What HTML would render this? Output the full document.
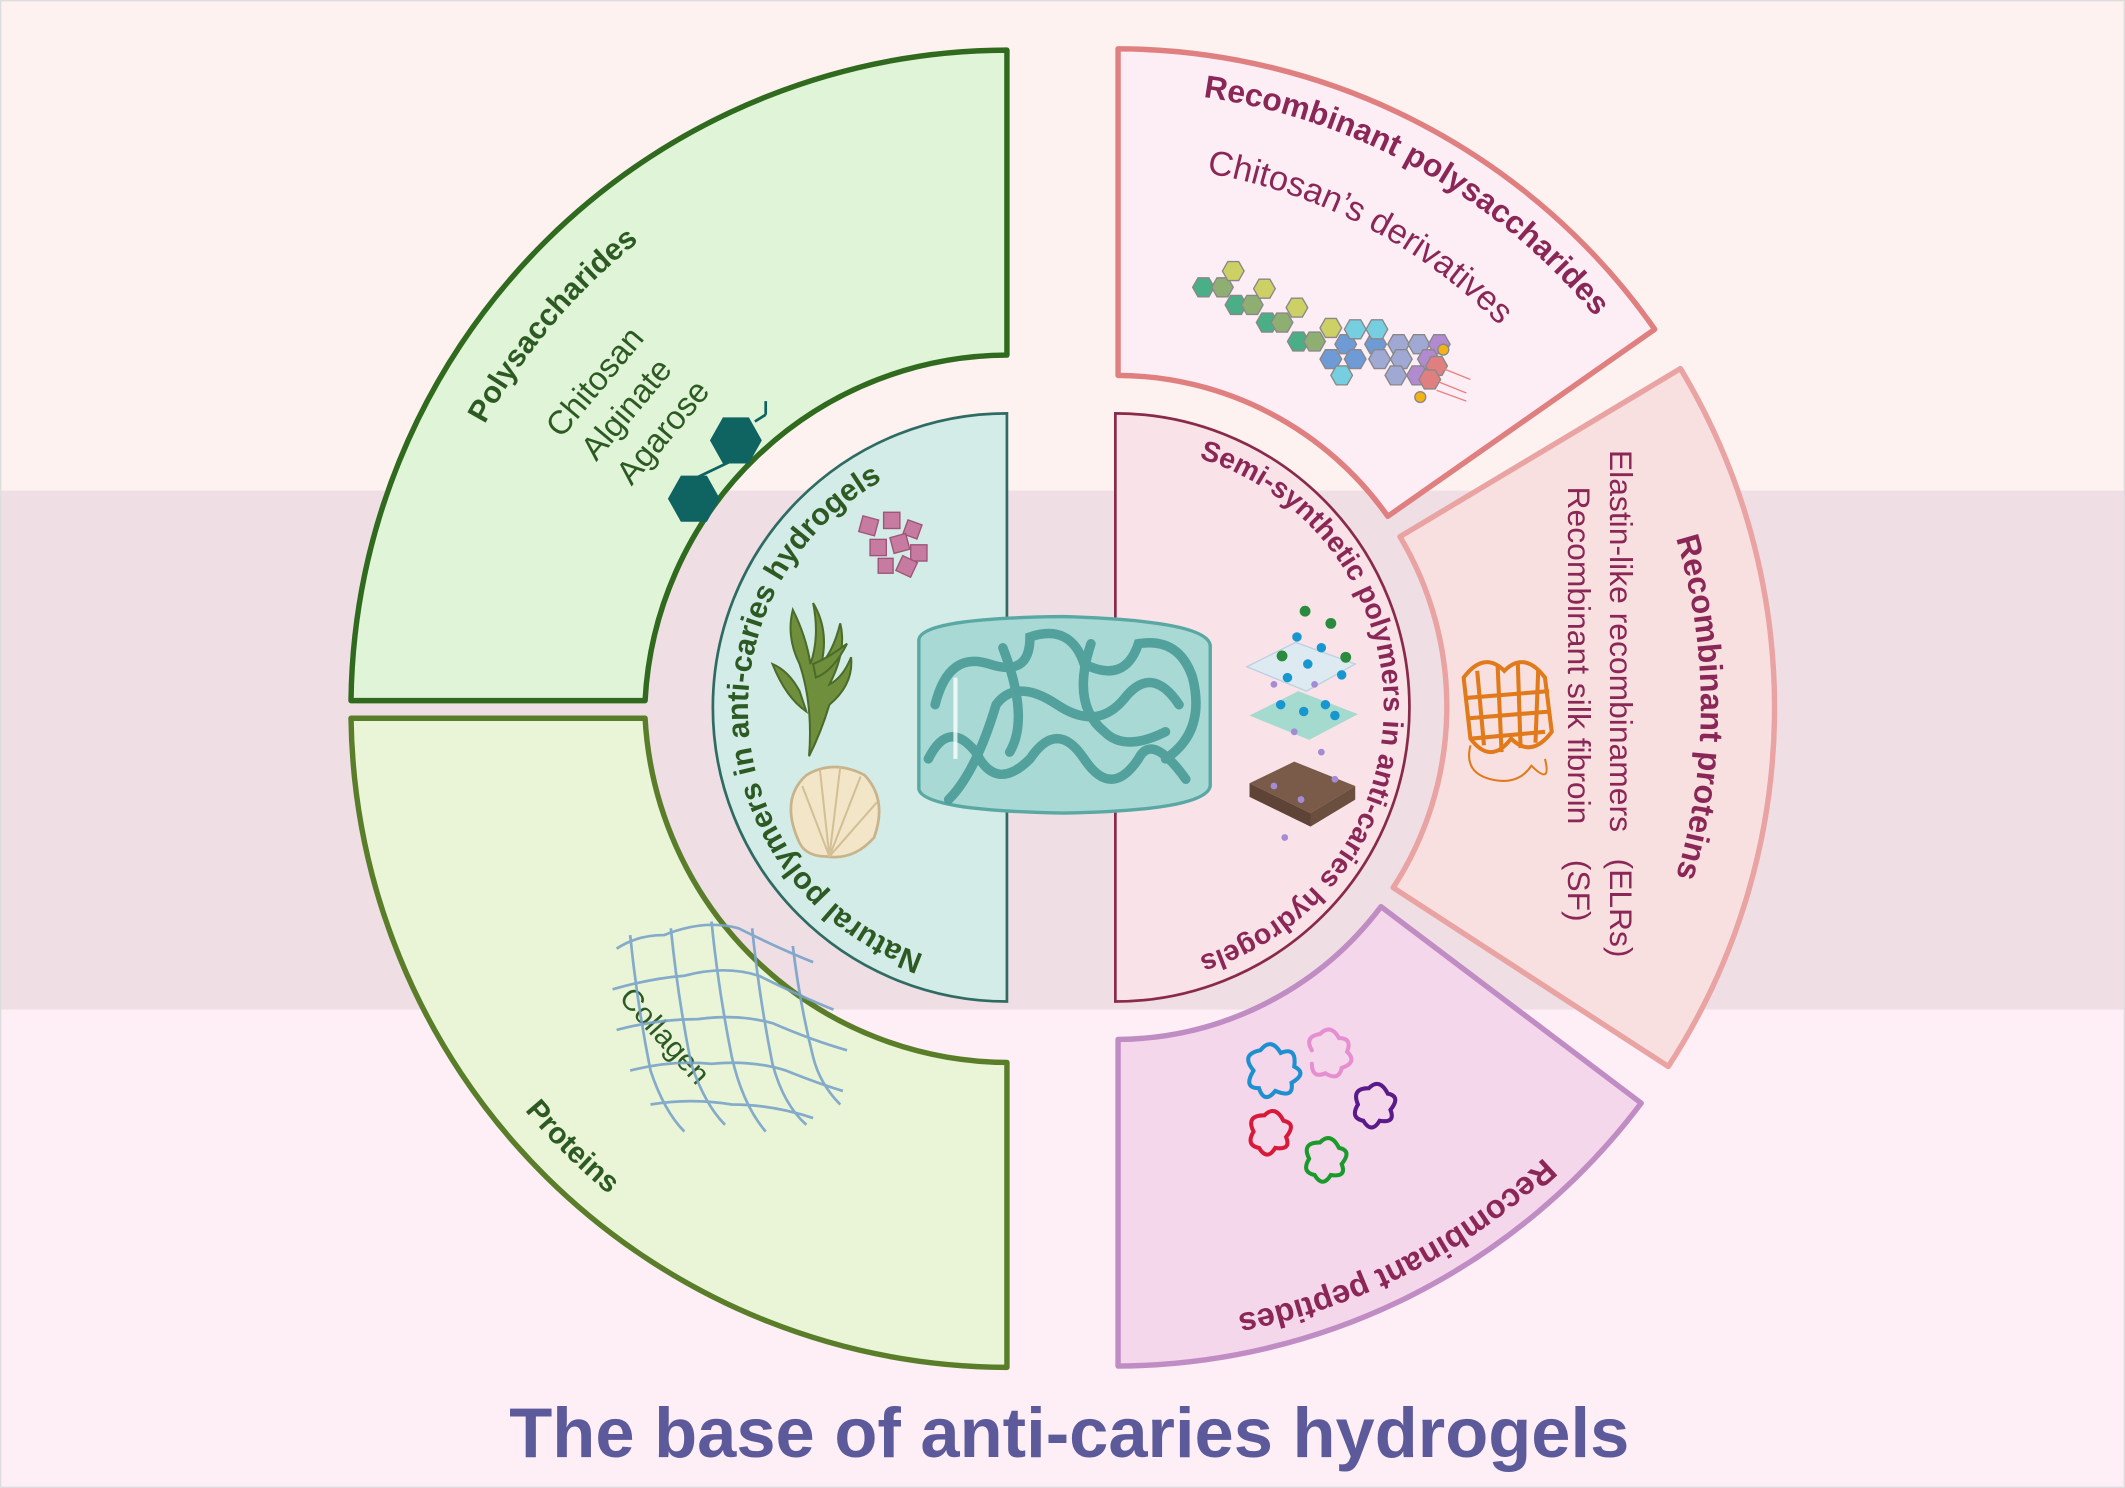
<!DOCTYPE html>
<html><head><meta charset="utf-8"><style>
html,body{margin:0;padding:0;background:#fdf2f0}
svg{display:block}
text{font-family:"Liberation Sans",sans-serif}
</style></head><body>
<svg width="2125" height="1488" viewBox="0 0 1568 1098" preserveAspectRatio="none" xmlns="http://www.w3.org/2000/svg">
<defs>
<polygon id="hx" points="-8,0 -4,-7 4,-7 8,0 4,7 -4,7"/>
<path id="pPoly" d="M331,372 A440 440 0 0 1 525,142"/>
<path id="pProt" d="M324,720 A465 465 0 0 0 549,944"/>
<path id="pRPS" d="M783,69 A457 457 0 0 1 1234,322"/>
<path id="pCD" d="M753,128 A400 400 0 0 1 1185,353"/>
<path id="pRP" d="M1154,244 A433 433 0 0 1 1154,800"/>
<path id="pPep" d="M1220,752 A455 455 0 0 1 783,976"/>
<path id="pNat" d="M728,714 A192 192 0 0 1 695,337"/>
<path id="pSemi" d="M829,330 A192 192 0 0 1 829,714"/>
</defs>
<rect x="0" y="0" width="1568" height="362" fill="#fdf2f0"/>
<rect x="0" y="362" width="1568" height="383" fill="#efdfe5"/>
<rect x="0" y="745" width="1568" height="353" fill="#fdeff5"/>
<rect x="0.5" y="0.5" width="1567" height="1097" fill="none" stroke="#ddd" stroke-width="1"/>

<path d="M743,37 A486 486 0 0 0 259,517 L476,517 A269 269 0 0 1 743,262 Z" fill="#e0f4d8" stroke="#2f6a1e" stroke-width="4" stroke-linejoin="round"/>
<path d="M259,530 L476,530 A269 269 0 0 0 743,784 L743,1009 A486 486 0 0 1 259,530 Z" fill="#eaf5d8" stroke="#5a7d2a" stroke-width="4" stroke-linejoin="round"/>
<path d="M825,36 A486 486 0 0 1 1221,243 L1024,381 A245 245 0 0 0 825,277 Z" fill="#fdeef5" stroke="#e07f80" stroke-width="4" stroke-linejoin="round"/>
<path d="M1033,396 L1240,272 A486 486 0 0 1 1231,787 L1028,655 A245 245 0 0 0 1033,396 Z" fill="#f9e0e0" stroke="#eaa3a3" stroke-width="4" stroke-linejoin="round"/>
<path d="M1019,669 L1211,814 A486 486 0 0 1 825,1008 L825,767 A245 245 0 0 0 1019,669 Z" fill="#f5d7ec" stroke="#c08cc4" stroke-width="4" stroke-linejoin="round"/>
<path d="M743,305 A217 217 0 0 0 743,739 Z" fill="#d3ece8" stroke="#2f6b62" stroke-width="2"/>
<path d="M823,305 A217 217 0 0 1 823,739 Z" fill="#f9e3e8" stroke="#8a2a4a" stroke-width="2"/>

<text font-size="22.5" font-weight="bold" fill="#2c5a22"><textPath href="#pPoly" startOffset="50%" text-anchor="middle">Polysaccharides</textPath></text>
<text font-size="22" font-weight="bold" fill="#2c5a22"><textPath href="#pProt" startOffset="50%" text-anchor="middle">Proteins</textPath></text>
<text font-size="23.5" font-weight="bold" fill="#8b2757"><textPath href="#pRPS" startOffset="50%" text-anchor="middle">Recombinant polysaccharides</textPath></text>
<text font-size="25.5" fill="#8b2757"><textPath href="#pCD" startOffset="50%" text-anchor="middle">Chitosan’s derivatives</textPath></text>
<text font-size="24" font-weight="bold" fill="#8b2757"><textPath href="#pRP" startOffset="50%" text-anchor="middle">Recombinant proteins</textPath></text>
<text font-size="24" font-weight="bold" fill="#8b2757"><textPath href="#pPep" startOffset="50%" text-anchor="middle">Recombinant peptides</textPath></text>
<text font-size="22.5" font-weight="bold" fill="#2c5a22"><textPath href="#pNat" startOffset="50%" text-anchor="middle">Natural polymers in anti-caries hydrogels</textPath></text>
<text font-size="21" font-weight="bold" fill="#8b2757"><textPath href="#pSemi" startOffset="50%" text-anchor="middle">Semi-synthetic polymers in anti-caries hydrogels</textPath></text>

<g font-size="24.5" fill="#2c5a22">
<text transform="translate(414,324) rotate(-50)">Chitosan</text>
<text transform="translate(440,341) rotate(-50)">Alginate</text>
<text transform="translate(466,359) rotate(-50)">Agarose</text>
</g>
<g fill="#0f6360" stroke="#0f6360" stroke-width="2">
<polygon points="494,368 503,352 521,352 530,368 521,384 503,384"/>
<polygon points="525,325 534,309 552,309 561,325 552,341 534,341"/>
<line x1="515" y1="352" x2="538" y2="341" />
<line x1="557" y1="311" x2="565" y2="306"/><line x1="565" y1="306" x2="565" y2="296"/>
</g>
<text transform="translate(456,737) rotate(48)" font-size="22" fill="#2c5a22">Collagen</text>
<g stroke="#7aa3c8" stroke-width="2" fill="none" opacity="0.9">
<path d="M455,700 Q470,690 490,690 Q520,678 545,685 Q575,700 600,710"/>
<path d="M452,730 Q480,722 505,720 Q535,712 560,720 Q590,735 615,745"/>
<path d="M455,760 Q485,752 515,752 Q545,748 570,755 Q600,768 625,775"/>
<path d="M465,790 Q495,782 525,785 Q555,782 580,790 Q605,800 622,805"/>
<path d="M480,815 Q510,810 540,815 Q570,815 600,825"/>
<path d="M465,690 Q470,740 480,790 Q490,820 505,835"/>
<path d="M495,685 Q500,735 510,785 Q520,815 535,830"/>
<path d="M525,680 Q530,730 540,780 Q548,815 565,835"/>
<path d="M555,685 Q560,735 570,785 Q578,815 595,830"/>
<path d="M585,698 Q590,740 600,780 Q605,800 620,815"/>
</g>
<g fill="#c77ba0" stroke="#9d5478" stroke-width="1">
<rect x="635" y="382" width="12" height="12" transform="rotate(15 641 388)"/>
<rect x="652" y="378" width="12" height="12"/>
<rect x="668" y="385" width="11" height="11" transform="rotate(20 673 390)"/>
<rect x="642" y="398" width="12" height="12"/>
<rect x="658" y="395" width="12" height="12" transform="rotate(-15 664 401)"/>
<rect x="672" y="402" width="12" height="12"/>
<rect x="648" y="412" width="11" height="11"/>
<rect x="663" y="412" width="12" height="12" transform="rotate(25 669 418)"/>
</g>
<g fill="#6f8f3c" stroke="#4b6b2a" stroke-width="1.5">
<path d="M597,558 Q600,520 590,490 Q580,470 585,450 Q595,470 598,490 Q605,470 600,445 Q612,465 606,490 Q615,480 620,460 Q625,480 612,505 Q622,500 628,485 Q630,505 612,520 Q606,540 597,558 Z"/>
<path d="M595,525 Q580,515 570,490 Q582,495 590,510 Z"/>
<path d="M602,500 Q615,495 625,475 Q612,485 600,490Z"/>
</g>
<g>
<path d="M590,622 Q575,590 595,572 Q615,560 638,572 Q655,590 645,618 Q630,635 610,632 Q595,632 590,622 Z" fill="#f3e6c8" stroke="#c9b38a" stroke-width="2"/>
<g stroke="#d3bf96" stroke-width="1.5"><line x1="612" y1="632" x2="592" y2="580"/><line x1="612" y1="632" x2="605" y2="568"/><line x1="612" y1="632" x2="620" y2="566"/><line x1="612" y1="632" x2="635" y2="573"/><line x1="612" y1="632" x2="647" y2="592"/></g>
</g>
<g>
<path d="M678,472 Q680,456 785,455 Q890,458 893,476 L893,580 Q890,598 785,600 Q680,598 678,582 Z" fill="#a9d9d5" stroke="#5aa8a3" stroke-width="2.5"/>
<g fill="none" stroke="#4a9c97" stroke-width="7" stroke-linecap="round" opacity="0.9">
<path d="M690,520 Q700,480 730,490 Q760,500 760,470 Q790,460 800,490 Q830,505 840,475 Q870,470 880,500 Q890,540 860,560"/>
<path d="M685,560 Q700,530 720,555 Q735,585 760,560 Q780,530 800,560 Q820,590 840,560 Q850,540 875,575"/>
<path d="M700,590 Q720,570 735,520 Q750,500 780,520 Q810,540 830,515 Q850,490 870,520"/>
<path d="M740,478 Q760,530 745,555 M805,475 Q790,520 815,540 Q830,555 860,540"/>
</g>
<path d="M705,560 L705,500" stroke="#fff" stroke-width="3" opacity="0.8"/>
</g>
<g>
<polygon points="922,578 955,562 1000,580 967,600" fill="#7a5a48"/>
<polygon points="922,578 967,600 967,610 922,588" fill="#5e4436"/>
<polygon points="967,600 1000,580 1000,590 967,610" fill="#6a4e3e"/>
<polygon points="922,528 958,510 1002,527 966,546" fill="#9bd8cb" opacity="0.9"/>
<polygon points="920,492 956,474 1000,490 964,510" fill="#dcebf4" opacity="0.9" stroke="#b5d0e0"/>
<g fill="#1797cf"><circle cx="950" cy="500" r="3.5"/><circle cx="965" cy="490" r="3.5"/><circle cx="945" cy="520" r="3.5"/><circle cx="962" cy="525" r="3.5"/><circle cx="978" cy="520" r="3.5"/><circle cx="990" cy="498" r="3.5"/><circle cx="957" cy="470" r="3.5"/><circle cx="975" cy="478" r="3.5"/><circle cx="985" cy="528" r="3.5"/></g>
<g fill="#2a8a3e"><circle cx="963" cy="451" r="4"/><circle cx="946" cy="484" r="4"/><circle cx="982" cy="460" r="4"/><circle cx="993" cy="485" r="4"/></g>
<g fill="#a48cd4"><circle cx="940" cy="505" r="2.5"/><circle cx="970" cy="505" r="2.5"/><circle cx="955" cy="540" r="2.5"/><circle cx="940" cy="580" r="2.5"/><circle cx="960" cy="590" r="2.5"/><circle cx="985" cy="575" r="2.5"/><circle cx="948" cy="618" r="2.5"/><circle cx="975" cy="555" r="2.5"/></g>
</g>
<g stroke="#888" stroke-width="1">
<g fill="#4aae86"><use href="#hx" x="888" y="212"/><use href="#hx" x="912" y="225"/><use href="#hx" x="935" y="238"/><use href="#hx" x="958" y="252"/></g>
<g fill="#8fae72"><use href="#hx" x="902" y="212"/><use href="#hx" x="924" y="225"/><use href="#hx" x="946" y="238"/><use href="#hx" x="970" y="252"/></g>
<g fill="#cdd064"><use href="#hx" x="910" y="200"/><use href="#hx" x="933" y="213"/><use href="#hx" x="957" y="227"/><use href="#hx" x="982" y="242"/></g>
<g fill="#6e9ad6"><use href="#hx" x="982" y="265"/><use href="#hx" x="993" y="254"/><use href="#hx" x="1000" y="265"/><use href="#hx" x="1015" y="254"/></g>
<g fill="#76cfe0"><use href="#hx" x="1000" y="243"/><use href="#hx" x="1016" y="243"/><use href="#hx" x="990" y="277"/></g>
<g fill="#a0a8d4"><use href="#hx" x="1018" y="265"/><use href="#hx" x="1032" y="254"/><use href="#hx" x="1034" y="265"/><use href="#hx" x="1047" y="254"/><use href="#hx" x="1030" y="277"/></g>
<g fill="#b18ad0"><use href="#hx" x="1062" y="254"/><use href="#hx" x="1054" y="265"/><use href="#hx" x="1046" y="277"/></g>
<g fill="#e07f80"><use href="#hx" x="1060" y="270"/><use href="#hx" x="1055" y="280"/></g>
<g fill="#f3b316"><circle cx="1065" cy="258" r="4"/><circle cx="1048" cy="293" r="4"/></g>
<g stroke="#ea8080" fill="none"><path d="M1065,272 l20,8 M1062,282 l20,8 M1060,288 l22,8"/></g>
</g>
<g font-size="23.5" fill="#8b2757">
<text transform="translate(1188,332) rotate(90)" xml:space="preserve">Elastin-like recombinamers   (ELRs)</text>
<text transform="translate(1157,359) rotate(90)" xml:space="preserve">Recombinant silk fibroin    (SF)</text>
</g>
<g fill="none" stroke="#e07a1a" stroke-width="3">
<path d="M1080,500 Q1095,480 1110,495 Q1125,480 1140,500 L1145,540 Q1130,560 1115,545 Q1100,565 1085,545 Z"/>
<path d="M1090,495 L1095,550 M1105,490 L1108,555 M1120,490 L1122,552 M1135,495 L1133,548"/>
<path d="M1082,515 L1143,510 M1084,530 L1144,525 M1086,545 L1140,540"/>
<path d="M1085,550 Q1080,570 1100,575 Q1120,580 1130,565 Q1145,580 1140,560" stroke-width="1.5"/>
</g>
<g fill="none" stroke-width="3" stroke-linecap="round">
<path d="M925,790 q-10,-12 5,-15 q8,-10 15,2 q12,-5 10,10 q10,5 -2,12 q2,12 -12,6 q-8,10 -12,-2 q-12,0 -4,-13" stroke="#1e90d0"/>
<path d="M968,775 q-6,-10 6,-12 q8,-8 14,3 q10,0 6,10 q8,8 -4,12 q-2,10 -12,4 q-10,4 -10,-7" stroke="#e58fd0"/>
<path d="M1002,815 q-5,-12 8,-12 q8,-8 14,4 q10,2 2,12 q4,10 -8,8 q-6,10 -12,0 q-10,-2 -4,-12" stroke="#5a1a8a"/>
<path d="M925,835 q-6,-12 8,-12 q8,-8 14,4 q10,2 2,12 q4,10 -8,8 q-6,10 -12,0 q-10,-2 -4,-12" stroke="#d81a3a"/>
<path d="M966,855 q-6,-12 8,-12 q8,-8 14,4 q10,2 2,12 q4,10 -8,8 q-6,10 -12,0 q-10,-2 -4,-12" stroke="#1a9a2a"/>
</g>
<text x="789" y="1075" text-anchor="middle" font-size="52" font-weight="bold" fill="#5c5a9a">The base of anti-caries hydrogels</text>
</svg>
</body></html>
